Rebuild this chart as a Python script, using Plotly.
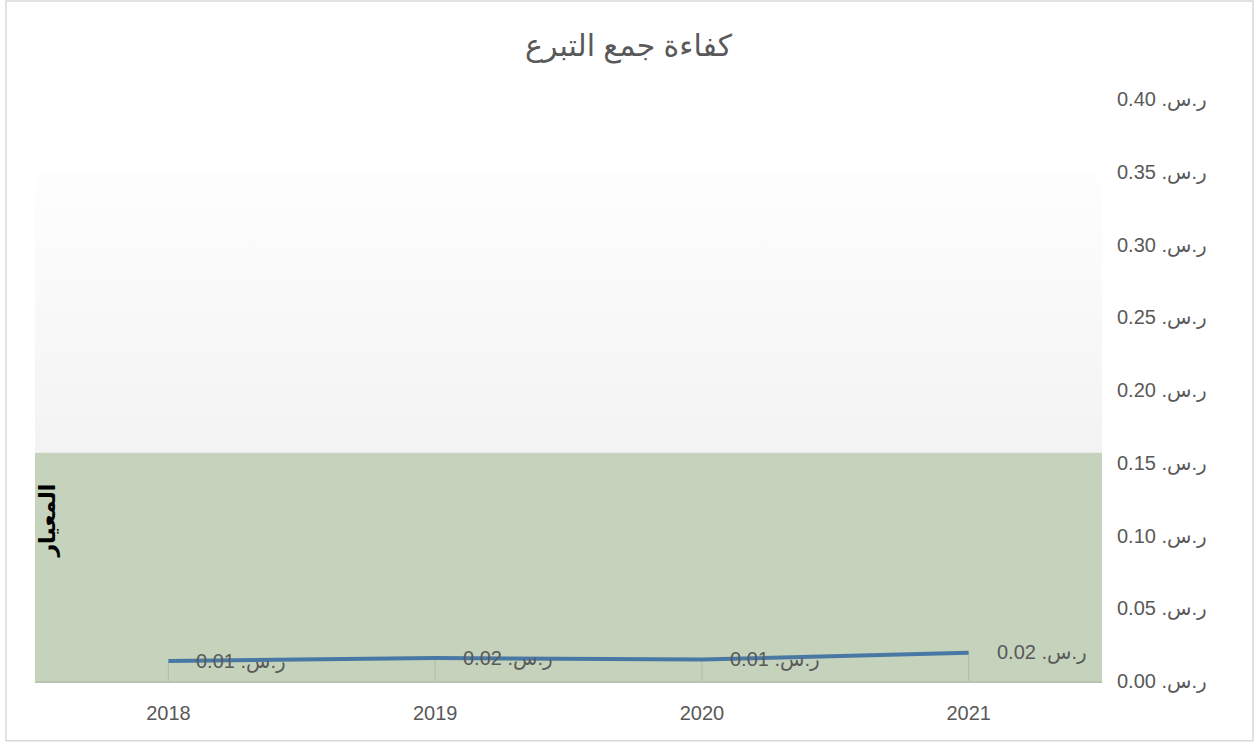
import plotly.graph_objects as go

# --- data ---
years = ["2018", "2019", "2020", "2021"]
efficiency = [0.0137, 0.0158, 0.0148, 0.0195]   # ر.س. per riyal raised
benchmark = 0.157                                # green "المعيار" band
upper_band = 0.35                                # top of the grey gradient band
y_ticks = [0.00, 0.05, 0.10, 0.15, 0.20, 0.25, 0.30, 0.35, 0.40]

CURRENCY = "ر.س. "
FONT = "Arial, 'Liberation Sans', 'DejaVu Sans', sans-serif"
GREY_TEXT = "#595959"

xs = list(range(len(years)))
band_x = [-0.5, len(years) - 0.5]

fig = go.Figure()

# benchmark band (green)
fig.add_trace(
    go.Scatter(
        x=band_x, y=[benchmark, benchmark], mode="lines",
        line={"width": 0}, fill="tozeroy", fillcolor="#c5d3bc",
        hoverinfo="skip", showlegend=False,
    )
)
# area above benchmark, white -> light grey gradient
fig.add_trace(
    go.Scatter(
        x=band_x, y=[upper_band, upper_band], mode="lines",
        line={"width": 0}, fill="tonexty",
        fillgradient={
            "type": "vertical",
            "colorscale": [[0, "#f3f3f3"], [1, "#fefefe"]],
            "start": benchmark, "stop": upper_band,
        },
        hoverinfo="skip", showlegend=False,
    )
)
# efficiency line with drop lines to the axis
fig.add_trace(
    go.Scatter(
        x=xs, y=efficiency, mode="lines",
        line={"color": "#4a78a5", "width": 4},
        error_y={
            "type": "data", "symmetric": False,
            "array": [0] * len(efficiency), "arrayminus": efficiency,
            "color": "#b3bfab", "thickness": 1.2, "width": 0,
        },
        showlegend=False,
        hovertemplate="%{y:.3f}<extra></extra>",
    )
)

# data labels
for x, v in zip(xs, efficiency):
    fig.add_annotation(
        x=x, y=v, text=f"{CURRENCY}{v:.2f}", showarrow=False,
        xanchor="left", yanchor="middle", xshift=26,
        font={"family": FONT, "size": 20, "color": GREY_TEXT},
    )

# benchmark label
fig.add_annotation(
    x=0, xref="paper", y=benchmark * 0.7, yref="y",
    text="<b>المعيار</b>", showarrow=False, textangle=-90,
    xanchor="left", yanchor="middle", xshift=-2,
    font={"family": FONT, "size": 22, "color": "#000000"},
)

# chart border
fig.add_shape(
    type="rect", xref="paper", yref="paper",
    x0=-0.0272, x1=1.1415, y0=-0.1025, y1=1.1685,
    line={"color": "#d9d9d9", "width": 1.5}, layer="below",
)

fig.update_xaxes(
    range=band_x, tickvals=xs, ticktext=years,
    showgrid=False, zeroline=False, ticks="",
    showline=True, linecolor="#b9c3b1", linewidth=1.5,
    ticklabelstandoff=13,
    tickfont={"family": FONT, "size": 20, "color": GREY_TEXT},
)
fig.update_yaxes(
    range=[0, 0.40], side="right", tickvals=y_ticks,
    ticktext=[f"{CURRENCY}{t:.2f}" for t in y_ticks],
    showgrid=False, zeroline=False, showline=False, ticks="",
    ticklabelstandoff=14,
    tickfont={"family": FONT, "size": 20, "color": GREY_TEXT},
)

fig.update_layout(
    width=1257, height=742,
    margin={"l": 35, "r": 155, "t": 99, "b": 61},
    paper_bgcolor="white", plot_bgcolor="white",
    title={
        "text": "كفاءة جمع التبرع", "x": 0.5, "xref": "container",
        "y": 1 - 45 / 742, "yref": "container", "yanchor": "middle", "xanchor": "center",
        "font": {"family": FONT, "size": 30, "color": GREY_TEXT},
    },
    showlegend=False,
)

fig.write_html(
    "out.html",
    config={"displayModeBar": False},
    post_script="document.body.style.margin = '0';",
)
